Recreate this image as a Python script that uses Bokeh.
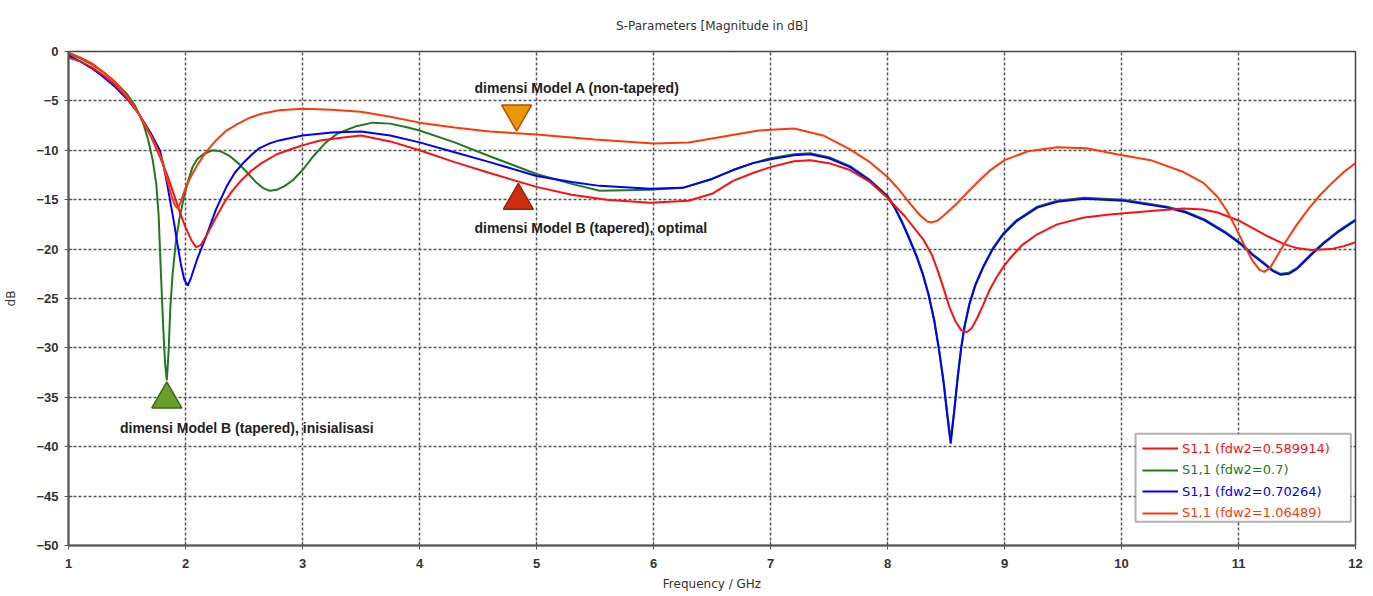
from bokeh.plotting import figure
from bokeh.models import (Legend, LegendItem, BoxAnnotation, FixedTicker, Range1d,
                          ColumnDataSource)
from bokeh.core.properties import value
from bokeh.embed import file_html
from bokeh.resources import INLINE

# ---------------- data ----------------
red_f = [1.0, 1.1, 1.2, 1.3, 1.4, 1.5, 1.6, 1.7, 1.75, 1.8, 1.85, 1.89, 1.95, 2.0, 2.05, 2.09,
         2.13, 2.18, 2.26, 2.33, 2.4, 2.48, 2.56, 2.65, 2.78, 2.9, 3.0, 3.15, 3.35, 3.5, 3.75,
         4.0, 4.3, 4.6, 5.0, 5.3, 5.6, 5.97, 6.3, 6.5, 6.68, 6.85, 7.0, 7.2, 7.34, 7.5, 7.68,
         7.85, 7.99, 8.15, 8.31, 8.38, 8.43, 8.48, 8.53, 8.58, 8.63, 8.68, 8.72, 8.77, 8.82,
         8.87, 8.93, 8.99, 9.05, 9.15, 9.28, 9.45, 9.68, 9.9, 10.1, 10.3, 10.53, 10.7, 10.82,
         11.0, 11.11, 11.25, 11.39, 11.5, 11.62, 11.79, 11.9, 12.0]
red_db = [-0.6, -1.0, -1.6, -2.4, -3.4, -4.7, -6.3, -8.5, -9.8, -11.2, -12.7, -14.1, -16.2,
          -17.8, -19.1, -19.8, -19.6, -18.6, -16.8, -15.3, -14.1, -13.0, -12.1, -11.3, -10.4,
          -9.9, -9.5, -9.0, -8.7, -8.5, -9.1, -10.0, -11.2, -12.3, -13.7, -14.5, -15.0, -15.3,
          -15.1, -14.4, -13.1, -12.3, -11.7, -11.1, -11.0, -11.3, -12.0, -13.2, -14.7, -16.7,
          -19.1, -20.6, -22.2, -24.0, -25.9, -27.3, -28.2, -28.4, -28.0, -26.9, -25.6, -24.2,
          -22.9, -21.8, -20.9, -19.6, -18.5, -17.5, -16.8, -16.5, -16.3, -16.1, -15.9, -16.0,
          -16.3, -17.1, -17.8, -18.7, -19.5, -19.9, -20.1, -20.0, -19.7, -19.3]

green_f = [1.0, 1.1, 1.2, 1.3, 1.4, 1.5, 1.57, 1.64, 1.68, 1.72, 1.75, 1.77, 1.79, 1.81, 1.825,
           1.84, 1.855, 1.87, 1.89, 1.92, 1.95, 1.98, 2.02, 2.06, 2.1, 2.15, 2.23, 2.3, 2.38,
           2.46, 2.53, 2.6, 2.66, 2.72, 2.78, 2.85, 2.92, 3.0, 3.1, 3.2, 3.3, 3.45, 3.6, 3.75,
           3.9, 4.0, 4.3, 4.6, 5.0, 5.3, 5.54, 5.97, 6.25, 6.5, 6.68, 6.85, 7.0, 7.2, 7.34, 7.5,
           7.68, 7.85, 8.0, 8.06, 8.12, 8.18, 8.25, 8.3, 8.35, 8.4, 8.44, 8.48, 8.51, 8.54,
           8.57, 8.6, 8.63, 8.66, 8.7, 8.75, 8.82, 8.9, 8.99, 9.1, 9.28, 9.45, 9.68, 10.02,
           10.39, 10.55, 10.71, 10.88, 11.02, 11.12, 11.22, 11.29, 11.36, 11.43, 11.5, 11.56,
           11.62, 11.73, 11.86, 12.0]
green_db = [-0.2, -0.7, -1.3, -2.1, -3.1, -4.3, -5.5, -7.3, -8.9, -11.0, -13.4, -16.5, -22.5,
            -28.0, -31.5, -33.3, -30.5, -26.0, -22.5, -19.0, -16.8, -15.1, -13.2, -11.7, -10.9,
            -10.4, -10.0, -10.1, -10.6, -11.4, -12.3, -13.2, -13.8, -14.1, -14.0, -13.6, -13.0,
            -12.0, -10.5, -9.2, -8.3, -7.6, -7.2, -7.3, -7.7, -8.0, -9.2, -10.6, -12.4, -13.4,
            -14.1, -14.0, -13.8, -12.9, -12.0, -11.3, -10.8, -10.4, -10.3, -10.7, -11.6, -13.0,
            -14.6, -15.7, -17.1, -18.7, -20.7, -22.4, -24.5, -27.2, -30.1, -33.4, -36.5, -39.3,
            -36.3, -32.9, -29.9, -27.7, -25.5, -23.6, -21.7, -19.9, -18.4, -17.1, -15.7, -15.1,
            -14.8, -15.0, -15.7, -16.2, -17.0, -18.2, -19.4, -20.5, -21.4, -22.1, -22.5, -22.4,
            -21.9, -21.2, -20.5, -19.3, -18.1, -17.0]

blue_f = [1.0, 1.1, 1.2, 1.3, 1.4, 1.5, 1.6, 1.7, 1.78, 1.81, 1.84, 1.87, 1.9, 1.93, 1.96,
          1.99, 2.02, 2.05, 2.1, 2.18, 2.26, 2.35, 2.42, 2.5, 2.57, 2.63, 2.72, 2.8, 3.0, 3.25,
          3.5, 3.75, 4.0, 4.3, 4.6, 5.0, 5.3, 5.54, 5.97, 6.25, 6.5, 6.68, 6.85, 7.0, 7.2, 7.34,
          7.5, 7.68, 7.85, 8.0, 8.06, 8.12, 8.18, 8.25, 8.3, 8.35, 8.4, 8.44, 8.48, 8.51, 8.54,
          8.57, 8.6, 8.63, 8.66, 8.7, 8.75, 8.82, 8.9, 8.99, 9.1, 9.28, 9.45, 9.68, 10.02,
          10.39, 10.55, 10.71, 10.88, 11.02, 11.12, 11.22, 11.29, 11.36, 11.43, 11.5, 11.56,
          11.62, 11.73, 11.86, 12.0]
blue_db = [-0.4, -1.0, -1.7, -2.6, -3.6, -4.8, -6.3, -8.2, -10.0, -11.4, -13.2, -15.2, -17.2,
           -19.4, -21.5, -23.1, -23.7, -22.8, -21.0, -18.6, -16.0, -13.7, -12.3, -11.2, -10.4,
           -9.8, -9.3, -9.0, -8.5, -8.2, -8.1, -8.5, -9.2, -10.2, -11.2, -12.6, -13.2, -13.6,
           -13.9, -13.8, -12.9, -12.0, -11.3, -10.9, -10.5, -10.4, -10.8, -11.7, -13.1, -14.7,
           -15.8, -17.2, -18.8, -20.8, -22.5, -24.6, -27.3, -30.2, -33.6, -36.8, -39.7, -36.5,
           -33.0, -30.0, -27.8, -25.6, -23.7, -21.8, -20.0, -18.5, -17.2, -15.8, -15.2, -14.9,
           -15.1, -15.8, -16.3, -17.1, -18.3, -19.5, -20.6, -21.5, -22.2, -22.6, -22.5, -22.0,
           -21.3, -20.6, -19.4, -18.2, -17.1]

orange_f = [1.0, 1.1, 1.2, 1.3, 1.4, 1.5, 1.6, 1.7, 1.75, 1.8, 1.84, 1.88, 1.91, 1.935, 1.96,
            2.0, 2.04, 2.1, 2.18, 2.26, 2.35, 2.45, 2.55, 2.65, 2.8, 3.0, 3.25, 3.5, 3.75, 4.0,
            4.3, 4.6, 5.0, 5.5, 6.0, 6.3, 6.6, 6.9, 7.2, 7.45, 7.68, 7.85, 8.0, 8.1, 8.2, 8.28,
            8.34, 8.38, 8.43, 8.5, 8.6, 8.68, 8.78, 8.88, 9.0, 9.2, 9.45, 9.7, 9.96, 10.25,
            10.53, 10.7, 10.82, 10.9, 10.97, 11.05, 11.12, 11.18, 11.22, 11.27, 11.33, 11.4,
            11.5, 11.6, 11.7, 11.8, 11.9, 12.0]
orange_db = [-0.1, -0.6, -1.2, -2.1, -3.1, -4.5, -6.3, -8.4, -9.6, -11.0, -12.8, -14.6, -15.6,
             -15.9, -15.2, -13.8, -12.8, -11.5, -10.1, -9.0, -8.0, -7.3, -6.7, -6.3, -5.95,
             -5.8, -5.9, -6.1, -6.6, -7.2, -7.7, -8.1, -8.4, -8.9, -9.3, -9.2, -8.6, -8.0, -7.8,
             -8.5, -9.9, -11.2, -12.7, -14.0, -15.5, -16.6, -17.2, -17.3, -17.1, -16.4, -15.3,
             -14.3, -13.1, -12.0, -11.0, -10.1, -9.7, -9.8, -10.4, -11.0, -12.2, -13.3, -14.7,
             -16.1, -17.7, -19.6, -21.2, -22.1, -22.3, -21.9, -20.7, -19.3, -17.5, -15.9, -14.5,
             -13.3, -12.2, -11.3]

series_labels = ["S1,1 (fdw2=0.589914)", "S1,1 (fdw2=0.7)",
                 "S1,1 (fdw2=0.70264)", "S1,1 (fdw2=1.06489)"]
series_colors = ["#ff1010", "#1f7a1f", "#0000ff", "#ff3a0a"]

marker_x = [4.83, 4.845, 1.84]
marker_y = [-6.3, -15.1, -35.2]
marker_types = ["inverted_triangle", "triangle", "triangle"]
marker_fill = ["#e8960a", "#cc3010", "#6aa02a"]
marker_line = ["#c04a00", "#a02000", "#3a6a1a"]

ann_x = [4.47, 4.47, 1.44]
ann_y = [-3.7, -17.9, -38.1]
ann_text = ["dimensi Model A (non-tapered)", "dimensi Model B (tapered), optimal",
            "dimensi Model B (tapered), inisialisasi"]

title_text = "S-Parameters [Magnitude in dB]"
x_ticks = list(range(1, 13))
y_ticks = list(range(-50, 1, 5))

# ---------------- figure ----------------
p = figure(width=1365, height=594, output_backend="svg", toolbar_location=None,
           x_range=Range1d(1, 12), y_range=Range1d(-50, 0),
           min_border_left=68, min_border_right=10, min_border_top=51, min_border_bottom=49,
           title=title_text)
p.title.align = "center"
p.title.vertical_align = "top"
p.title.standoff = 34
p.title.text_font = "DejaVu Sans"
p.title.text_font_size = "12px"
p.title.text_font_style = "normal"
p.title.text_color = "#333333"

p.xaxis.ticker = FixedTicker(ticks=x_ticks)
p.yaxis.ticker = FixedTicker(ticks=y_ticks)
for ax in (p.xaxis, p.yaxis):
    ax.axis_line_color = "#555555"
    ax.axis_line_width = 2
    ax.major_tick_line_color = "#555555"
    ax.major_tick_in = 4
    ax.major_tick_out = 4
    ax.minor_tick_line_color = None
    ax.major_label_text_font = "Liberation Sans"
    ax.major_label_text_font_style = "bold"
    ax.major_label_text_font_size = "13px"
    ax.major_label_text_color = "#333333"
    ax.axis_label_text_font = "DejaVu Sans"
    ax.axis_label_text_font_style = "normal"
    ax.axis_label_text_font_size = "12px"
    ax.axis_label_text_color = "#333333"
p.xaxis.axis_label = "Frequency / GHz"
p.yaxis.axis_label = "dB"
p.xaxis.major_label_standoff = 9
p.xaxis.axis_label_standoff = 6
p.yaxis.major_label_standoff = 6
p.yaxis.axis_label_standoff = 15

p.grid.grid_line_color = "#444444"
p.grid.grid_line_dash = "3 2"
p.grid.grid_line_width = 1.5
p.grid.grid_line_alpha = 0.9
p.outline_line_color = "#444444"
p.outline_line_width = 1.5

r_green = p.line(green_f, green_db, line_color=series_colors[1], line_width=2)
r_blue = p.line(blue_f, blue_db, line_color=series_colors[2], line_width=2)
r_red = p.line(red_f, red_db, line_color=series_colors[0], line_width=2)
r_orange = p.line(orange_f, orange_db, line_color=series_colors[3], line_width=2)

msrc = ColumnDataSource(dict(x=marker_x, y=marker_y, m=marker_types, f=marker_fill, l=marker_line))
p.scatter("x", "y", source=msrc, marker="m", size=30, fill_color="f", line_color="l", line_width=1.5)

asrc = ColumnDataSource(dict(x=ann_x, y=ann_y, t=ann_text))
p.text("x", "y", text="t", source=asrc, text_font=value("Liberation Sans"),
       text_font_style="bold", text_font_size="14px", text_color="#222222",
       text_baseline="middle", text_align="left")

# legend frame
box = BoxAnnotation(left=10.12, right=11.96, top=-38.7, bottom=-47.6,
                    fill_color="white", fill_alpha=1.0, line_color="black", line_width=2)
p.add_layout(box)

renderers = [r_red, r_green, r_blue, r_orange]
leg_bottoms = [89, 67.5, 46, 24.5]
for lab, col, rr, yb in zip(series_labels, series_colors, renderers, leg_bottoms):
    lg = Legend(items=[LegendItem(label=lab, renderers=[rr])], location=(1074, yb),
                margin=0, padding=0, spacing=0, glyph_width=36, glyph_height=16,
                label_height=16, label_standoff=4, label_text_font="DejaVu Sans",
                label_text_font_size="13px", label_text_color=col,
                border_line_alpha=0, background_fill_alpha=0)
    p.add_layout(lg)

open("out.html", "w").write(file_html(p, INLINE))
